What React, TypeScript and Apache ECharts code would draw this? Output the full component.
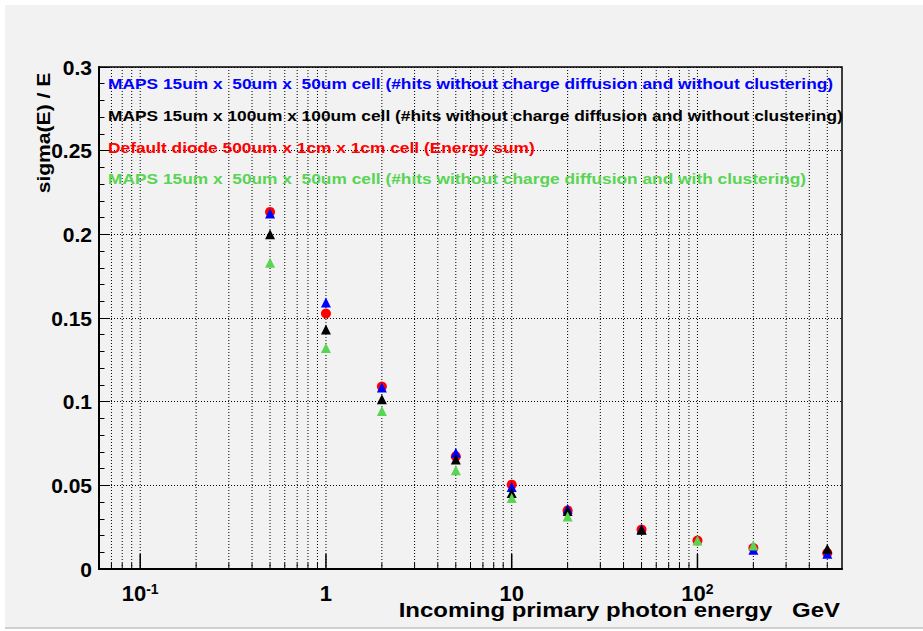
import React, { useEffect, useRef } from "react";
import * as echarts from "echarts";

// ---- data ----
const energies = [0.5, 1, 2, 5, 10, 20, 50, 100, 200, 500];
const seriesNames = [
  "MAPS 15um x  50um x  50um cell (#hits without charge diffusion and without clustering)",
  "MAPS 15um x 100um x 100um cell (#hits without charge diffusion and without clustering)",
  "Default diode 500um x 1cm x 1cm cell (Energy sum)",
  "MAPS 15um x  50um x  50um cell (#hits without charge diffusion and with clustering)",
];
const maps50NoClus = [0.2125, 0.1592, 0.1085, 0.0695, 0.049, 0.036, 0.0238, null, 0.0115, 0.0091];
const maps100NoClus = [0.2, 0.1431, 0.1014, 0.0655, 0.0454, 0.0346, 0.0234, null, null, 0.0121];
const diodeSum = [0.2134, 0.1527, 0.109, 0.0673, 0.0504, 0.035, 0.0236, 0.017, 0.0125, 0.0095];
const maps50Clus = [0.183, 0.1321, 0.0944, 0.059, 0.0424, 0.0314, null, 0.017, 0.0141, null];
const xMajorTicks = [0.1, 1, 10, 100];
const xMinorTicks = [
  0.07, 0.08, 0.09,
  0.2, 0.3, 0.4, 0.5, 0.6, 0.7, 0.8, 0.9,
  2, 3, 4, 5, 6, 7, 8, 9,
  20, 30, 40, 50, 60, 70, 80, 90,
  200, 300, 400, 500,
];
const xMin = 0.06;
const xMax = 600;
const yMin = 0;
const yMax = 0.3;
const yStep = 0.05;
const xTitle = "Incoming primary photon energy   GeV";
const yTitle = "sigma(E) / E";

const FONT = "'Liberation Sans', Arial, Helvetica, sans-serif";
const colors = ["#0000ff", "#000000", "#ff0000", "#59d454"];
const legendY = [83, 115, 147, 178];

function pairs(vals: (number | null)[]) {
  const out: number[][] = [];
  vals.forEach((v, i) => {
    if (v !== null) out.push([energies[i], v]);
  });
  return out;
}

export default function App() {
  const ref = useRef<HTMLDivElement>(null);
  useEffect(() => {
    if (!ref.current) return;
    const chart = echarts.init(ref.current, undefined, { renderer: "svg" });
    const tickData = [
      ...xMajorTicks.map((v) => [v, 1]),
      ...xMinorTicks.map((v) => [v, 0]),
    ];
    const valueSets = [maps50NoClus, maps100NoClus, diodeSum, maps50Clus];
    const symbols = ["triangle", "triangle", "circle", "triangle"];
    // drawing order: red, blue, black, green
    const order = [2, 0, 1, 3];
    const scatterSeries = order.map((i, k) => ({
      type: "scatter",
      name: seriesNames[i],
      data: pairs(valueSets[i]),
      symbol: symbols[i],
      symbolSize: 10,
      itemStyle: { color: colors[i], opacity: 1 },
      z: 10 + k,
      emphasis: { disabled: true },
    }));

    const legendTexts = [0, 1, 2, 3].map((i) => ({
      type: "text",
      x: 108,
      y: legendY[i],
      scaleX: 1.156,
      z: 50,
      style: {
        text: seriesNames[i],
        fontSize: 15,
        fontWeight: "bold",
        fontFamily: FONT,
        fill: colors[i],
        textAlign: "left",
        textVerticalAlign: "middle",
      },
    }));

    chart.setOption({
      animation: false,
      backgroundColor: "transparent",
      textStyle: { fontFamily: FONT },
      grid: {
        left: 99,
        right: 81,
        top: 67,
        bottom: 62,
        show: true,
        borderColor: "#000",
        borderWidth: 1.5,
        backgroundColor: "transparent",
      },
      xAxis: {
        type: "log",
        logBase: 10,
        min: xMin,
        max: xMax,
        splitNumber: 4,
        axisLine: { show: true, lineStyle: { color: "#000", width: 2 } },
        axisTick: { show: false },
        splitLine: { show: false },
        axisLabel: {
          margin: 13,
          color: "#000",
          formatter: (v: number) => {
            const l = Math.log10(v);
            const e = Math.round(l);
            if (Math.abs(l - e) > 1e-6) return "";
            if (e === 0) return "{b|1}";
            if (e === 1) return "{b|10}";
            return `{b|10}{s|${e}}`;
          },
          rich: {
            b: { fontSize: 22, fontWeight: "bold", fontFamily: FONT, color: "#000", lineHeight: 22, verticalAlign: "bottom" },
            s: { fontSize: 14, fontWeight: "bold", fontFamily: FONT, color: "#000", lineHeight: 22, verticalAlign: "top" },
          },
        },
      },
      yAxis: {
        type: "value",
        min: yMin,
        max: yMax,
        interval: yStep,
        axisLine: { show: true, lineStyle: { color: "#000", width: 2 } },
        axisTick: { show: true, inside: true, length: 11, lineStyle: { color: "#000", width: 1 } },
        minorTick: { show: true, splitNumber: 5, length: 5.5, lineStyle: { color: "#000", width: 1 } },
        splitLine: { show: true, lineStyle: { color: "#000", width: 1, type: [1, 2] } },
        axisLabel: {
          margin: 7,
          color: "#000",
          fontSize: 21,
          fontWeight: "bold",
          fontFamily: FONT,
          formatter: (v: number) => (v === 0 ? "0" : String(+v.toFixed(2))),
        },
      },
      graphic: [
        ...legendTexts,
        {
          type: "text",
          x: 840,
          y: 610,
          scaleX: 1.14,
          style: {
            text: xTitle,
            fontSize: 21,
            fontWeight: "bold",
            fontFamily: FONT,
            fill: "#000",
            textAlign: "right",
            textVerticalAlign: "middle",
          },
        },
        {
          type: "text",
          x: 43,
          y: 133,
          rotation: Math.PI / 2,
          scaleX: 1.11,
          style: {
            text: yTitle,
            fontSize: 19,
            fontWeight: "bold",
            fontFamily: FONT,
            fill: "#000",
            textAlign: "center",
            textVerticalAlign: "middle",
          },
        },
      ],
      series: [
        {
          type: "custom",
          name: "xgrid",
          data: tickData,
          clip: false,
          z: 1,
          silent: true,
          renderItem: (params: any, api: any) => {
            const x = api.value(0);
            const major = api.value(1) === 1;
            const bottom = api.coord([x, yMin]);
            const top = api.coord([x, yMax]);
            const len = major ? 15 : 6;
            return {
              type: "group",
              children: [
                {
                  type: "line",
                  shape: { x1: bottom[0], y1: bottom[1], x2: top[0], y2: top[1] },
                  style: { stroke: "#000", lineWidth: 1, lineDash: [1, 2] },
                },
                {
                  type: "line",
                  shape: { x1: bottom[0], y1: bottom[1], x2: bottom[0], y2: bottom[1] - len },
                  style: { stroke: "#000", lineWidth: major ? 1.5 : 1 },
                },
              ],
            };
          },
        },
        ...scatterSeries,
      ],
    });
    return () => chart.dispose();
  }, []);

  return (
    <div style={{ position: "fixed", left: 0, top: 0, width: 923, height: 631, background: "#fff" }}>
      <div
        style={{
          position: "absolute",
          left: 5,
          top: 5,
          width: 918,
          height: 622,
          background: "#f2f2f2",
          borderBottom: "2px solid #cfcfcf",
        }}
      />
      <div ref={ref} style={{ position: "absolute", left: 0, top: 0, width: 923, height: 631 }} />
    </div>
  );
}
